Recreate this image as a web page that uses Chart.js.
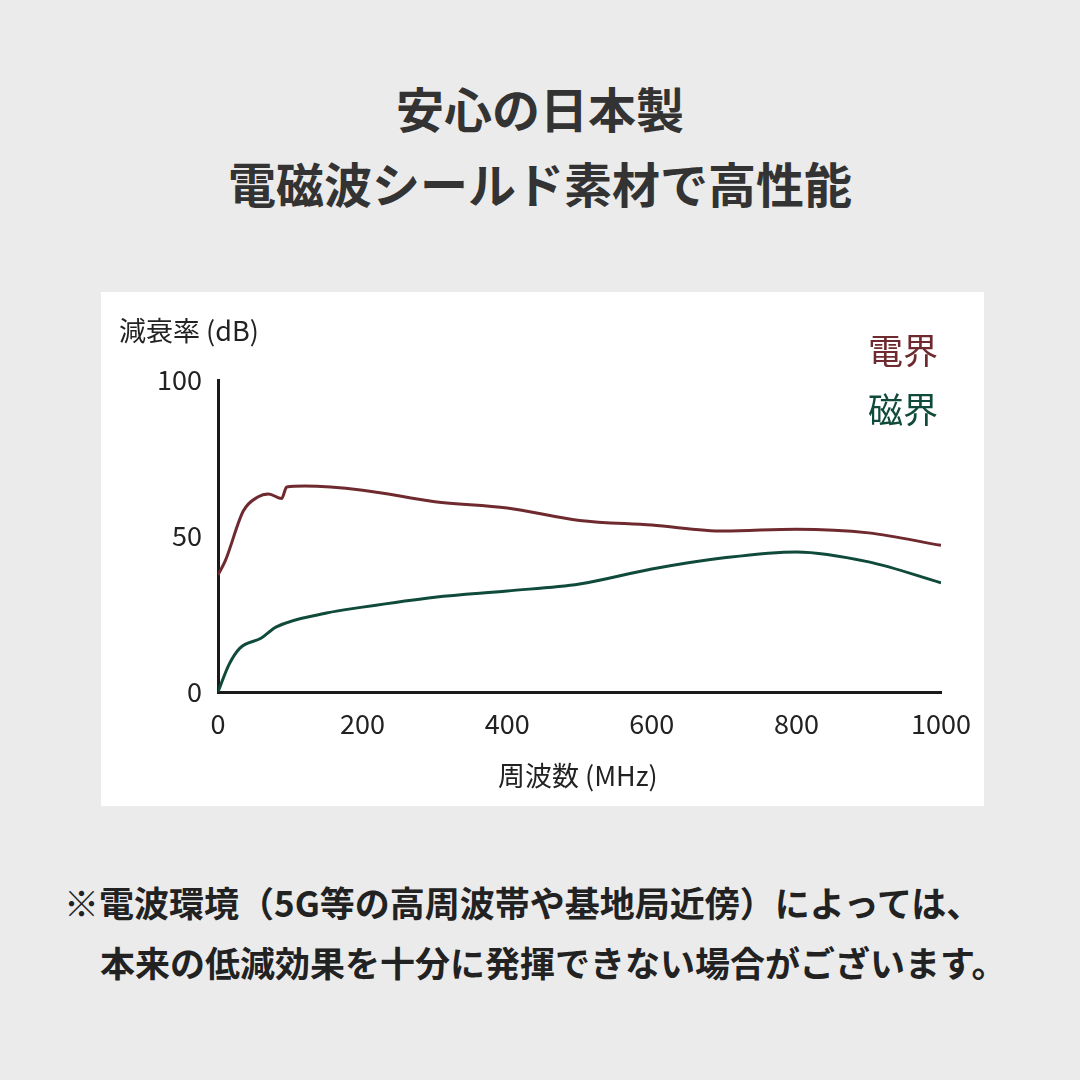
<!DOCTYPE html>
<html><head><meta charset="utf-8">
<script src="https://cdn.jsdelivr.net/npm/chart.js@4"></script>
<style>
body{margin:0;width:1080px;height:1080px;background:#ebebeb;font-family:"Noto Sans CJK JP",sans-serif;position:relative;overflow:hidden;color:#333}
.t{position:absolute;left:0;width:1080px;text-align:center;font-weight:bold;font-size:48px}
.panel{position:absolute;left:101px;top:292px;width:883px;height:514px;background:#fff}
.lab{position:absolute;font-size:27px;color:#222}
.note{position:absolute;font-weight:bold;font-size:35px;color:#222;white-space:nowrap}
</style></head><body>
<div class="t" style="top:72px">安心の日本製</div>
<div class="t" style="top:147px">電磁波シールド素材で高性能</div>
<div class="panel"><canvas id="c" width="883" height="514"></canvas></div>
<div class="lab" style="left:119px;top:310px">減衰率 (dB)</div>
<div class="lab" style="left:498px;top:755px">周波数 (MHz)</div>
<div class="lab" style="left:868px;top:323px;font-size:35px;color:#6e2a2e">電界</div>
<div class="lab" style="left:868px;top:382px;font-size:35px;color:#0f4a3a">磁界</div>
<div class="note" style="left:64px;top:876px">※電波環境（5G等の高周波帯や基地局近傍）によっては、</div>
<div class="note" style="left:100px;top:936px">本来の低減効果を十分に発揮できない場合がございます。</div>
<script>
const elecX = [0, 10, 35, 55, 70, 88, 95, 120, 200, 300, 400, 500, 600, 700, 800, 900, 1000];
const elecY = [37.5, 42, 58, 62.5, 63.5, 62, 65.7, 66, 64.7, 61, 59, 55, 53.5, 51.6, 52.2, 51, 47];
const magX = [0, 15, 30, 60, 80, 150, 200, 300, 400, 500, 600, 700, 800, 900, 1000];
const magY = [0, 8.7, 14, 17.3, 20.8, 25.3, 27.2, 30.4, 32.4, 34.6, 39.4, 43, 44.9, 41.7, 35];
const xTicks = [0, 200, 400, 600, 800, 1000];
const yTicks = [0, 50, 100];

const pts = (xs, ys) => xs.map((x, i) => ({x: x, y: ys[i]}));
new Chart(document.getElementById('c'), {
    type: 'scatter',
    data: {
        datasets: [
            {data: pts(elecX, elecY), showLine: true, borderColor: '#6e2a2e', borderWidth: 3, pointRadius: 0, cubicInterpolationMode: 'monotone'},
            {data: pts(magX, magY), showLine: true, borderColor: '#0f4a3a', borderWidth: 3, pointRadius: 0, cubicInterpolationMode: 'monotone'}
        ]
    },
    options: {
        responsive: false,
        animation: false,
        layout: {padding: {top: 88, right: 43, left: 0, bottom: 0}},
        plugins: {legend: {display: false}, tooltip: {enabled: false}},
        scales: {
            x: {
                type: 'linear', min: 0, max: 1000,
                grid: {display: false, drawTicks: false},
                border: {color: '#1a1a1a', width: 3},
                afterBuildTicks: a => { a.ticks = xTicks.map(v => ({value: v})); },
                ticks: {color: '#222', font: {size: 27, family: 'Noto Sans CJK JP'}, padding: 16, maxRotation: 0, callback: v => String(v)},
                afterFit: a => { a.height = 114; a.paddingRight = 0; }
            },
            y: {
                min: 0, max: 100,
                grid: {display: false, drawTicks: false},
                border: {color: '#1a1a1a', width: 3},
                afterBuildTicks: a => { a.ticks = yTicks.map(v => ({value: v})); },
                ticks: {color: '#222', font: {size: 27, family: 'Noto Sans CJK JP'}, padding: 16},
                afterFit: a => { a.width = 117; }
            }
        }
    }
});
</script>
</body></html>
